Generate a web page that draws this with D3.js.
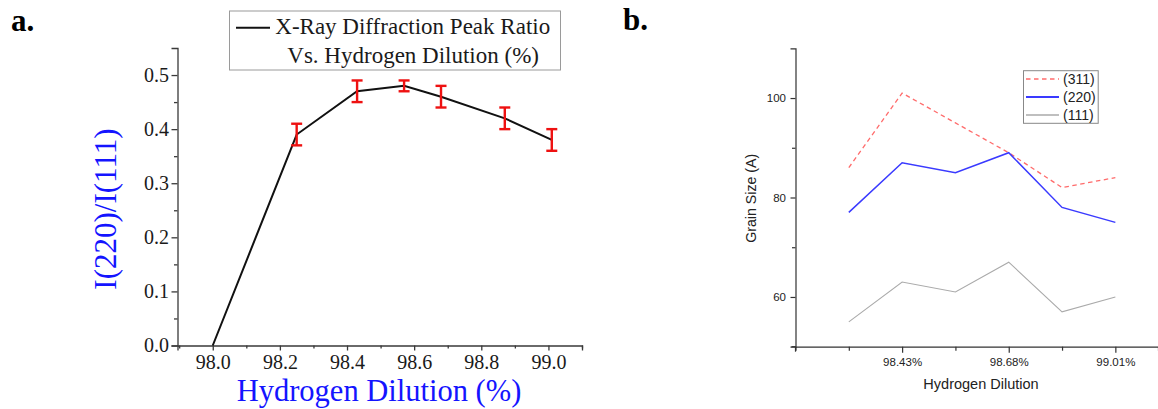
<!DOCTYPE html>
<html>
<head>
<meta charset="utf-8">
<script src="https://cdn.jsdelivr.net/npm/d3@7"></script>
<style>
  html, body { margin: 0; padding: 0; background: #fff; }
  svg { display: block; }
</style>
</head>
<body>
<svg id="chart" width="1158" height="409"></svg>
<script>
// ---------- Panel a data ----------
const dilutionA = [98.0, 98.25, 98.43, 98.57, 98.68, 98.87, 99.01];
const ratioA    = [0.00, 0.39, 0.47, 0.48, 0.46, 0.42, 0.38];
const errorA    = [null, 0.02, 0.02, 0.01, 0.02, 0.02, 0.02];
const xTicksA   = [98.0, 98.2, 98.4, 98.6, 98.8, 99.0];
const yTicksA   = [0.0, 0.1, 0.2, 0.3, 0.4, 0.5];
const legendA   = ["X-Ray Diffraction Peak Ratio", "Vs. Hydrogen Dilution (%)"];

// ---------- Panel b data ----------
const categoriesB = ["98.25%", "98.43%", "98.57%", "98.68%", "98.87%", "99.01%"];
const labelledB   = ["98.43%", "98.68%", "99.01%"];
const grain311    = [86, 101, 95, 89, 82, 84];
const grain220    = [77, 87, 85, 89, 78, 75];
const grain111    = [55, 63, 61, 67, 57, 60];
const yTicksB     = [60, 80, 100];
const seriesNamesB = ["(311)", "(220)", "(111)"];

const svg = d3.select("#chart");
const SERIF = "'Liberation Serif', 'Times New Roman', serif";
const SANS  = "'Liberation Sans', Arial, sans-serif";

// =============== Panel a ===============
{
  const x = d3.scaleLinear().domain([97.895, 99.1]).range([177.5, 582]);
  const y = d3.scaleLinear().domain([0, 0.55]).range([345.5, 48]);
  const axisColor = "#3a3a3a";

  // minor ticks
  const xMinor = [97.9, 98.1, 98.3, 98.5, 98.7, 98.9, 99.1];
  const yMinor = [0.05, 0.15, 0.25, 0.35, 0.45];

  const gx = svg.append("g").attr("transform", `translate(0,${y(0)})`);
  gx.call(d3.axisBottom(x).tickValues(xTicksA).tickSize(5).tickPadding(4.5)
      .tickFormat(d3.format(".1f")));
  gx.append("g").call(d3.axisBottom(x).tickValues(xMinor).tickSize(3).tickFormat(""))
    .select(".domain").remove();
  gx.selectAll("path,line").attr("stroke", axisColor).attr("stroke-width", 1.3);
  gx.selectAll("text").attr("font-family", SERIF).attr("font-size", 20).attr("fill", "#1a1a1a");

  const gy = svg.append("g").attr("transform", `translate(${x.range()[0]},0)`);
  gy.call(d3.axisLeft(y).tickValues(yTicksA).tickSize(6).tickPadding(2.5)
      .tickFormat(d3.format(".1f")));
  gy.append("g").call(d3.axisLeft(y).tickValues(yMinor).tickSize(3.5).tickFormat(""))
    .select(".domain").remove();
  gy.selectAll("path,line").attr("stroke", axisColor).attr("stroke-width", 1.3);
  gy.selectAll("text").attr("font-family", SERIF).attr("font-size", 20).attr("fill", "#1a1a1a");

  // line
  const pts = dilutionA.map((d, i) => ({x: d, y: ratioA[i], e: errorA[i]}));
  svg.append("path").datum(pts)
    .attr("fill", "none").attr("stroke", "#111").attr("stroke-width", 2)
    .attr("d", d3.line().x(d => x(d.x)).y(d => y(d.y)));

  // error bars
  const eb = svg.append("g").attr("stroke", "#ee1111").attr("stroke-width", 2.4).attr("fill", "none");
  pts.filter(d => d.e != null).forEach(d => {
    const cx = x(d.x), top = y(d.y + d.e), bot = y(d.y - d.e);
    eb.append("line").attr("x1", cx).attr("x2", cx).attr("y1", top).attr("y2", bot);
    eb.append("line").attr("x1", cx - 5.5).attr("x2", cx + 5.5).attr("y1", top).attr("y2", top);
    eb.append("line").attr("x1", cx - 5.5).attr("x2", cx + 5.5).attr("y1", bot).attr("y2", bot);
  });

  // axis titles
  svg.append("text").attr("x", 379).attr("y", 401).attr("text-anchor", "middle")
    .attr("font-family", SERIF).attr("font-size", 30.5).attr("fill", "#1414ff")
    .text("Hydrogen Dilution (%)");
  svg.append("text").attr("transform", "translate(116,209) rotate(-90)")
    .attr("text-anchor", "middle")
    .attr("font-family", SERIF).attr("font-size", 31).attr("fill", "#1414ff")
    .text("I(220)/I(111)");

  // legend
  svg.append("rect").attr("x", 229.5).attr("y", 11).attr("width", 331).attr("height", 59)
    .attr("fill", "#fff").attr("stroke", "#9a9a9a").attr("stroke-width", 1);
  svg.append("line").attr("x1", 236).attr("x2", 270).attr("y1", 27.7).attr("y2", 27.7)
    .attr("stroke", "#111").attr("stroke-width", 2);
  svg.append("text").attr("x", 275.3).attr("y", 33.5)
    .attr("font-family", SERIF).attr("font-size", 23).attr("fill", "#1a1a1a").text(legendA[0]);
  svg.append("text").attr("x", 287.3).attr("y", 63.3)
    .attr("font-family", SERIF).attr("font-size", 23).attr("fill", "#1a1a1a").text(legendA[1]);

  // panel label
  svg.append("text").attr("x", 11).attr("y", 31)
    .attr("font-family", SERIF).attr("font-weight", "bold").attr("font-size", 31).attr("fill", "#000")
    .text("a.");
}

// =============== Panel b ===============
{
  const x = d3.scaleLinear().domain([0, 6.8]).range([795.5, 1158]);
  const y = d3.scaleLinear().domain([50, 110]).range([346.7, 48.3]);
  const axisColor = "#333";
  const idx = d3.range(1, categoriesB.length + 1);

  const gx = svg.append("g").attr("transform", `translate(0,${y(50)})`);
  gx.call(d3.axisBottom(x).tickValues(idx.filter(i => !labelledB.includes(categoriesB[i - 1])))
      .tickSize(4).tickFormat(""));
  gx.append("g").call(d3.axisBottom(x).tickValues(idx.filter(i => labelledB.includes(categoriesB[i - 1])))
      .tickSize(6).tickPadding(5).tickFormat(i => categoriesB[i - 1]))
    .select(".domain").remove();
  gx.selectAll("path,line").attr("stroke", axisColor).attr("stroke-width", 1.2);
  gx.selectAll("text").attr("font-family", SANS).attr("font-size", 11.5).attr("fill", "#222");

  const yMinorB = [70, 90];
  const gy = svg.append("g").attr("transform", `translate(${x(0)},0)`);
  gy.call(d3.axisLeft(y).tickValues(yTicksB).tickSize(5).tickPadding(4.5));
  gy.append("g").call(d3.axisLeft(y).tickValues(yMinorB).tickSize(3.5).tickFormat(""))
    .select(".domain").remove();
  gy.append("line").attr("x1", 0).attr("x2", 0).attr("y1", y(50)).attr("y2", y(50) + 5);
  gy.append("line").attr("x1", -4).attr("x2", 0).attr("y1", y(50)).attr("y2", y(50));
  gy.selectAll("path,line").attr("stroke", axisColor).attr("stroke-width", 1.2);
  gy.selectAll("text").attr("font-family", SANS).attr("font-size", 11.5).attr("fill", "#222");

  const line = d3.line().x((d, i) => x(i + 1)).y(d => y(d));
  const styles = [
    {data: grain311, color: "#ff6b6b", width: 1.3, dash: "4.5,3.5"},
    {data: grain220, color: "#3a3aff", width: 1.5, dash: null},
    {data: grain111, color: "#aaaaaa", width: 1.1, dash: null}
  ];
  styles.forEach(s => {
    svg.append("path").datum(s.data)
      .attr("fill", "none").attr("stroke", s.color).attr("stroke-width", s.width)
      .attr("stroke-dasharray", s.dash).attr("d", line);
  });

  // legend
  svg.append("rect").attr("x", 1023.5).attr("y", 70.7).attr("width", 74.7).attr("height", 52.6)
    .attr("fill", "#fff").attr("stroke", "#888").attr("stroke-width", 1);
  styles.forEach((s, i) => {
    const ly = 79 + i * 18;
    svg.append("line").attr("x1", 1026).attr("x2", 1059).attr("y1", ly).attr("y2", ly)
      .attr("stroke", s.color).attr("stroke-width", s.width + 0.3).attr("stroke-dasharray", s.dash);
    svg.append("text").attr("x", 1063).attr("y", ly + 5)
      .attr("font-family", SANS).attr("font-size", 14).attr("fill", "#222").text(seriesNamesB[i]);
  });

  // axis titles
  svg.append("text").attr("x", 981).attr("y", 388.5).attr("text-anchor", "middle")
    .attr("font-family", SANS).attr("font-size", 14.5).attr("fill", "#222").text("Hydrogen Dilution");
  svg.append("text").attr("transform", "translate(755.5,198.3) rotate(-90)").attr("text-anchor", "middle")
    .attr("font-family", SANS).attr("font-size", 14.2).attr("fill", "#222").text("Grain Size (A)");

  svg.append("text").attr("x", 623).attr("y", 30)
    .attr("font-family", SERIF).attr("font-weight", "bold").attr("font-size", 31).attr("fill", "#000")
    .text("b.");
}
</script>
</body>
</html>
